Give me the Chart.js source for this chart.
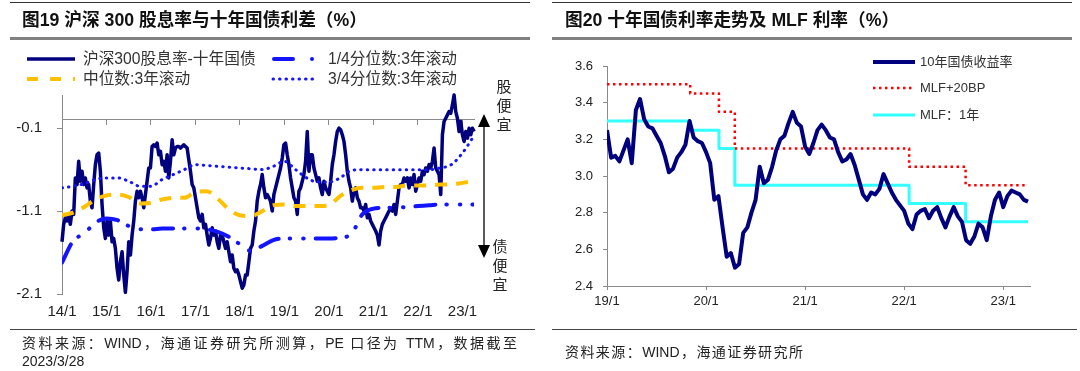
<!DOCTYPE html>
<html lang="zh">
<head>
<meta charset="UTF-8">
<title>沪深300股息率与十年国债利差 / 十年国债利率走势及MLF利率</title>
<script src="https://cdn.jsdelivr.net/npm/chart.js@4"></script>
<style>
  body {
    margin: 0;
    width: 1080px;
    height: 371px;
    position: relative;
    overflow: hidden;
    background: #fff;
    font-family: 'Liberation Sans', Arial, 'Noto Sans CJK SC', sans-serif;
    color: #222;
  }
  canvas { position: absolute; top: 0; }
  svg { position: absolute; left: 0; top: 0; }
  .abs { position: absolute; white-space: nowrap; }
  .title { font-size: 17.7px; font-weight: bold; line-height: 20px; top: 10px; color: #111; }
  .rule { position: absolute; }
  .legend { font-size: 15.7px; line-height: 18px; color: #333; }
  .legend-r { font-size: 13px; line-height: 16px; color: #333; }
  .note { font-size: 14px; line-height: 18px; color: #222; }
  .justify { text-align: justify; text-align-last: justify; white-space: normal; }
  .vert { font-size: 15px; line-height: 19px; width: 16px; text-align: center; white-space: normal; color: #222; }
</style>
</head>
<body>

<canvas id="leftChart" width="540" height="330" style="left:0"></canvas>
<canvas id="rightChart" width="540" height="330" style="left:540px"></canvas>

<!-- frame rules -->
<div class="rule" style="left:10px;top:2px;width:520px;height:1px;background:#333"></div>
<div class="rule" style="left:10px;top:37px;width:520px;height:3px;background:#808080"></div>
<div class="rule" style="left:10px;top:329px;width:525px;height:1px;background:#444"></div>
<div class="rule" style="left:552px;top:2px;width:520px;height:1px;background:#333"></div>
<div class="rule" style="left:552px;top:37px;width:520px;height:3px;background:#808080"></div>
<div class="rule" style="left:552px;top:329px;width:525px;height:1px;background:#444"></div>

<div class="abs title" style="left:22px">图19 沪深 300 股息率与十年国债利差（%）</div>
<div class="abs title" style="left:565px">图20 十年国债利率走势及 MLF 利率（%）</div>

<svg width="1080" height="371">
  <!-- left legend samples -->
  <line x1="27" y1="59" x2="75" y2="59" stroke="#00007f" stroke-width="3.5"/>
  <line x1="27" y1="79" x2="75" y2="79" stroke="#ffc000" stroke-width="4" stroke-dasharray="11 12"/>
  <line x1="274" y1="59" x2="293" y2="59" stroke="#1414ff" stroke-width="4" stroke-linecap="round"/>
  <circle cx="312" cy="59" r="2" fill="#1414ff"/>
  <line x1="273" y1="79" x2="315" y2="79" stroke="#1414ff" stroke-width="3" stroke-dasharray="0.5 6" stroke-linecap="round"/>
  <!-- arrow -->
  <line x1="484" y1="122" x2="484" y2="250" stroke="#000" stroke-width="1.3"/>
  <polygon points="484,114 478,127 490,127" fill="#000"/>
  <polygon points="484,258 478,245 490,245" fill="#000"/>
  <!-- right legend samples -->
  <line x1="873" y1="62" x2="915" y2="62" stroke="#00007f" stroke-width="4"/>
  <line x1="873" y1="88" x2="915" y2="88" stroke="#ff0000" stroke-width="2.5" stroke-dasharray="2.5 3.5"/>
  <line x1="873" y1="115" x2="915" y2="115" stroke="#33ffff" stroke-width="3"/>
</svg>

<div class="abs legend" style="left:83px;top:50px">沪深300股息率-十年国债</div>
<div class="abs legend" style="left:328px;top:50px">1/4分位数:3年滚动</div>
<div class="abs legend" style="left:83px;top:70px">中位数:3年滚动</div>
<div class="abs legend" style="left:328px;top:70px">3/4分位数:3年滚动</div>

<div class="abs vert" style="left:496px;top:77px">股便宜</div>
<div class="abs vert" style="left:492px;top:237px">债便宜</div>

<div class="abs legend-r" style="left:920px;top:54px">10年国债收益率</div>
<div class="abs legend-r" style="left:920px;top:80px">MLF+20BP</div>
<div class="abs legend-r" style="left:920px;top:107px">MLF：1年</div>

<div class="abs note justify" style="left:22px;top:334px;width:495px">资料来源：WIND，海通证券研究所测算，PE 口径为 TTM，数据截至</div>
<div class="abs note" style="left:22px;top:352px">2023/3/28</div>
<div class="abs note justify" style="left:565px;top:343px;width:238px">资料来源：WIND，海通证券研究所</div>

<script>
    // ---- left chart data: spread, sampled about every two weeks from 2014/1 ----
    const spreadStart = 2014;
    const spreadStep = 0.0375;
    const spreadValues = [
        -1.47, -1.26, -1.18, -1.22, -1.14, -1.26, -1.10, -1.14, -0.70, -0.78,
        -0.50, -0.74, -0.62, -0.78, -0.70, -0.82, -0.78, -0.98, -1.06, -0.78,
        -0.54, -0.42, -0.40, -0.62, -1.02, -1.30, -1.43, -1.22, -1.39, -1.22,
        -1.47, -1.43, -1.55, -1.79, -1.93, -1.71, -1.59, -1.87, -2.08, -1.83,
        -1.47, -1.63, -1.39, -1.22, -0.98, -0.86, -0.94, -0.86, -0.94, -1.06,
        -0.90, -0.74, -0.58, -0.58, -0.32, -0.30, -0.32, -0.28, -0.42, -0.38,
        -0.54, -0.50, -0.62, -0.42, -0.70, -0.50, -0.24, -0.42, -0.34, -0.32,
        -0.32, -0.34, -0.32, -0.30, -0.32, -0.34, -0.48, -0.62, -0.78, -0.82,
        -0.94, -1.06, -1.18, -1.22, -1.14, -1.30, -1.26, -1.39, -1.51, -1.43,
        -1.30, -1.39, -1.34, -1.47, -1.55, -1.39, -1.39, -1.47, -1.55, -1.47,
        -1.59, -1.71, -1.63, -1.79, -1.83, -1.81, -1.87, -1.95, -2.03, -1.99,
        -1.87, -1.87, -1.71, -1.55, -1.51, -1.34, -1.22, -0.98, -0.86, -0.78,
        -0.66, -0.82, -0.94, -0.90,
        -0.94, -0.98, -1.10, -0.90, -0.82, -0.74, -0.66, -0.58, -0.46, -0.30,
        -0.28, -0.42, -0.54, -0.70, -0.82, -0.94, -0.98, -1.14, -0.86, -0.82,
        -0.74, -0.66, -0.50, -0.14, -0.62, -0.42, -0.42, -0.58, -0.66, -0.74,
        -0.70, -0.82, -0.90, -0.74, -0.82, -0.86, -0.90, -0.74, -0.54, -0.42,
        -0.26, -0.14, -0.10, -0.12, -0.18, -0.26, -0.42, -0.62, -0.74, -0.82,
        -0.98, -0.86, -0.82, -0.94, -0.98, -1.06, -1.06, -1.10, -1.02, -1.18,
        -1.14, -1.22, -1.26, -1.30, -1.34, -1.39, -1.51, -1.34, -1.26, -1.22,
        -1.18, -1.14, -1.10, -1.06, -1.10, -1.02, -1.14, -0.98, -0.82, -0.78,
        -0.78, -0.70, -0.74, -0.70, -0.82, -0.70, -0.78, -0.66, -0.86, -0.78,
        -0.70, -0.74, -0.62, -0.66, -0.58, -0.62, -0.54, -0.58, -0.50, -0.34,
        -0.58, -0.62, -0.66, -0.90, -0.18, -0.02, 0.02, 0.06, 0.10, 0.08,
        0.18, 0.30, 0.10, 0.02, -0.14, -0.02, -0.18, -0.26, -0.14, -0.22,
        -0.10, -0.18, -0.10, -0.14
    ];

    // rolling 3-year quantiles, quarterly from 2014/1
    const quartStart = 2014;
    const quartStep = 0.25;
    const q25Values = [
        -1.72, -1.46, -1.37, -1.24, -1.19, -1.21, -1.28, -1.32, -1.32, -1.31,
        -1.31, -1.31, -1.31, -1.32, -1.35, -1.41, -1.50, -1.58, -1.52, -1.45,
        -1.43, -1.43, -1.43, -1.43, -1.43, -1.42, -1.38, -1.14, -1.07, -1.06,
        -1.06, -1.05, -1.04, -1.03, -1.02, -1.02, -1.02, -1.02
    ];
    const medianValues = [
        -1.15, -1.12, -1.05, -0.96, -0.91, -0.90, -0.93, -1.01, -1.00, -0.96,
        -0.94, -0.94, -0.87, -0.86, -0.95, -1.08, -1.15, -1.16, -1.10, -1.03,
        -1.02, -1.04, -1.04, -1.04, -1.03, -0.92, -0.85, -0.82, -0.82, -0.81,
        -0.81, -0.79, -0.79, -0.79, -0.78, -0.78, -0.76, -0.74
    ];
    const q75Values = [
        -0.82, -0.80, -0.77, -0.72, -0.70, -0.70, -0.74, -0.80, -0.80, -0.72,
        -0.66, -0.60, -0.54, -0.55, -0.56, -0.57, -0.58, -0.59, -0.60, -0.56,
        -0.50, -0.60, -0.70, -0.75, -0.75, -0.70, -0.61, -0.60, -0.60, -0.60,
        -0.60, -0.60, -0.60, -0.60, -0.58, -0.54, -0.40, -0.20
    ];
    const leftYTicks = [-2.1, -1.1, -0.1];
    const leftXYears = [2014, 2015, 2016, 2017, 2018, 2019, 2020, 2021, 2022, 2023];
    const leftXLabels = ['14/1', '15/1', '16/1', '17/1', '18/1', '19/1', '20/1', '21/1', '22/1', '23/1'];

    // ---- right chart data: 10y yield, twice a month from 2019/1 ----
    const yieldStart = 2019;
    const yieldStep = 1 / 24;
    const yieldValues = [
        3.25, 3.10, 3.11, 3.08, 3.14, 3.20, 3.07, 3.36, 3.42, 3.31,
        3.27, 3.26, 3.22, 3.18, 3.11, 3.02, 3.04, 3.10, 3.13, 3.17,
        3.30, 3.21, 3.19, 3.18, 3.13, 3.07, 2.87, 2.89, 2.72, 2.56,
        2.58, 2.50, 2.52, 2.69, 2.72, 2.80, 2.87, 3.05, 2.96, 2.98,
        3.05, 3.14, 3.20, 3.22, 3.29, 3.35, 3.29, 3.27, 3.16, 3.12,
        3.18, 3.25, 3.28, 3.25, 3.21, 3.20, 3.13, 3.08, 3.09, 3.12,
        3.06, 2.98, 2.90, 2.87, 2.91, 2.90, 2.93, 3.01, 2.96, 2.91,
        2.87, 2.84, 2.81, 2.74, 2.71, 2.79, 2.81, 2.82, 2.77, 2.81,
        2.83, 2.77, 2.72, 2.78, 2.83, 2.78, 2.75, 2.65, 2.63, 2.67,
        2.74, 2.72, 2.65, 2.78, 2.87, 2.91, 2.83, 2.89, 2.92, 2.91,
        2.90, 2.87, 2.86
    ];
    // MLF change dates (year fraction) and levels, last entry = end of data
    const mlfDates = [2019.0, 2019.84, 2020.13, 2020.29, 2022.05, 2022.62, 2023.25];
    const mlfValues = [3.30, 3.25, 3.15, 2.95, 2.85, 2.75, 2.75];
    const mlfPlusValues = [3.50, 3.45, 3.35, 3.15, 3.05, 2.95, 2.95];
    const rightYTicks = [2.4, 2.6, 2.8, 3.0, 3.2, 3.4, 3.6];
    const rightXYears = [2019, 2020, 2021, 2022, 2023];
    const rightXLabels = ['19/1', '20/1', '21/1', '22/1', '23/1'];

    Chart.defaults.font.family = "'Liberation Sans', Arial, sans-serif";
    Chart.defaults.color = '#222';

    const axisGrey = '#8a8a8a';

    function toPoints(values, start, step) {
        return values.map((v, i) => ({ x: start + i * step, y: v }));
    }
    function pairPoints(xs, ys) {
        return xs.map((x, i) => ({ x: x, y: ys[i] }));
    }
    function setTicks(values) {
        return scale => { scale.ticks = values.map(v => ({ value: v })); };
    }

    // Left chart
    new Chart(document.getElementById('leftChart'), {
        type: 'line',
        data: {
            datasets: [
                {
                    label: '1/4分位数:3年滚动',
                    data: toPoints(q25Values, quartStart, quartStep),
                    borderColor: '#1414ff',
                    borderWidth: 4,
                    borderDash: [20, 11, 0.5, 13, 0.5, 12],
                    borderCapStyle: 'round',
                    cubicInterpolationMode: 'monotone',
                    order: 1
                },
                {
                    label: '中位数:3年滚动',
                    data: toPoints(medianValues, quartStart, quartStep),
                    borderColor: '#ffc000',
                    borderWidth: 4,
                    borderDash: [12, 9],
                    cubicInterpolationMode: 'monotone',
                    order: 2
                },
                {
                    label: '3/4分位数:3年滚动',
                    data: toPoints(q75Values, quartStart, quartStep),
                    borderColor: '#1414ff',
                    borderWidth: 3,
                    borderDash: [0.5, 6],
                    borderCapStyle: 'round',
                    cubicInterpolationMode: 'monotone',
                    order: 3
                },
                {
                    label: '沪深300股息率-十年国债',
                    data: toPoints(spreadValues, spreadStart, spreadStep),
                    borderColor: '#00007f',
                    borderWidth: 3.5,
                    clip: 8,
                    order: 4
                }
            ]
        },
        options: {
            responsive: false,
            animation: false,
            layout: { padding: { left: 0, top: 95, right: 66, bottom: 0 } },
            elements: { point: { radius: 0 }, line: { borderJoinStyle: 'round' } },
            plugins: { legend: { display: false }, tooltip: { enabled: false } },
            scales: {
                x: {
                    type: 'linear',
                    min: 2014,
                    max: 2023.26,
                    afterBuildTicks: setTicks(leftXYears),
                    afterFit: scale => { scale.height = 36; },
                    border: { display: false },
                    grid: { display: false, drawTicks: false },
                    ticks: {
                        padding: 9,
                        maxRotation: 0,
                        autoSkip: false,
                        font: { size: 15 },
                        callback: (v, i) => leftXLabels[i]
                    }
                },
                x0: {
                    type: 'linear',
                    axis: 'x',
                    position: { y: 0 },
                    min: 2014,
                    max: 2023.26,
                    afterBuildTicks: setTicks(leftXYears),
                    border: { display: true, color: axisGrey },
                    grid: { drawOnChartArea: false, tickLength: 5, color: axisGrey },
                    ticks: { display: false }
                },
                y: {
                    type: 'linear',
                    min: -2.1,
                    max: 0.3,
                    afterBuildTicks: setTicks(leftYTicks),
                    afterFit: scale => { scale.width = 62; },
                    border: { color: axisGrey },
                    grid: { drawOnChartArea: false, tickLength: 5, color: axisGrey },
                    ticks: { padding: 15, font: { size: 15 }, callback: v => v.toFixed(1) }
                }
            }
        }
    });

    // Right chart
    new Chart(document.getElementById('rightChart'), {
        type: 'line',
        data: {
            datasets: [
                {
                    label: '10年国债收益率',
                    data: toPoints(yieldValues, yieldStart, yieldStep),
                    borderColor: '#00007f',
                    borderWidth: 4,
                    order: 0
                },
                {
                    label: 'MLF+20BP',
                    data: pairPoints(mlfDates, mlfPlusValues),
                    borderColor: '#ff0000',
                    borderWidth: 2.5,
                    borderDash: [2.5, 3.5],
                    stepped: true,
                    order: 1
                },
                {
                    label: 'MLF：1年',
                    data: pairPoints(mlfDates, mlfValues),
                    borderColor: '#33ffff',
                    borderWidth: 3,
                    stepped: true,
                    order: 2
                }
            ]
        },
        options: {
            responsive: false,
            animation: false,
            layout: { padding: { left: 0, top: 66, right: 50, bottom: 0 } },
            elements: { point: { radius: 0 }, line: { borderJoinStyle: 'round' } },
            plugins: { legend: { display: false }, tooltip: { enabled: false } },
            scales: {
                x: {
                    type: 'linear',
                    min: 2019,
                    max: 2023.27,
                    afterBuildTicks: setTicks(rightXYears),
                    afterFit: scale => { scale.height = 44; },
                    border: { color: axisGrey },
                    grid: { drawOnChartArea: false, tickLength: 4, color: axisGrey },
                    ticks: {
                        padding: 4,
                        maxRotation: 0,
                        autoSkip: false,
                        font: { size: 13 },
                        callback: (v, i) => rightXLabels[i]
                    }
                },
                y: {
                    type: 'linear',
                    min: 2.4,
                    max: 3.6,
                    afterBuildTicks: setTicks(rightYTicks),
                    afterFit: scale => { scale.width = 67; },
                    border: { color: axisGrey },
                    grid: { drawOnChartArea: false, tickLength: 4, color: axisGrey },
                    ticks: { padding: 10, font: { size: 13 }, callback: v => v.toFixed(1) }
                }
            }
        }
    });
</script>

</body>
</html>
